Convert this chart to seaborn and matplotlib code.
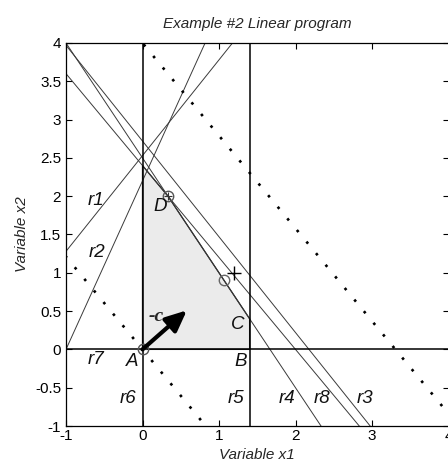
import numpy as np
import pandas as pd
import matplotlib
matplotlib.use("Agg")
import matplotlib.pyplot as plt
import seaborn as sns

# ---------------- data ----------------
constraint_names = ["r1", "r2", "r3", "r4", "r5", "r6", "r7", "r8"]
coef_x1 = [-1.25, -2.2, 1.25, 1.5, 1.0, -1.0, 0.0, 1.2]
coef_x2 = [1.0, 1.0, 1.0, 1.0, 0.0, 0.0, -1.0, 1.0]
rhs = [2.53, 2.2, 2.72, 2.5, 1.4, 0.0, 0.0, 2.4]

feasible_x1 = [0.0, 1.4, 1.4, 1 / 3, 0.0]
feasible_x2 = [0.0, 0.0, 0.4, 2.0, 2.4]

obj_c = [-1.21, -1.0]          # objective coefficients (contour slope)
obj_levels = [0.0, -4.0]       # dotted contour levels
neg_c_tip = [0.58, 0.51]       # end of the -c arrow

vertex_names = ["A", "D"]
vertex_x1 = [0.0, 1 / 3]
vertex_x2 = [0.0, 2.0]
trial_point = [1.2, 1.0]
projected_point = [1.06, 0.91]

xlim = (-1, 4)
ylim = (-1, 4)
xticks = [-1, 0, 1, 2, 3, 4]
yticks = [-1, -0.5, 0, 0.5, 1, 1.5, 2, 2.5, 3, 3.5, 4]

# ---------------- style ----------------
sns.set_theme(style="white")
plt.rcParams["font.family"] = ["Liberation Sans", "DejaVu Sans"]

fig = plt.figure(figsize=(4.48, 4.69), dpi=100)
ax = fig.add_axes([66 / 448, 43 / 469, 382.5 / 448, 383 / 469])
ax.set_xlim(*xlim)
ax.set_ylim(*ylim)

# feasible region
ax.fill(feasible_x1, feasible_x2, facecolor="#ebebeb", edgecolor="#1a1a1a",
        linewidth=0.9, zorder=1)

# constraint lines
heavy = {"r5", "r6", "r7"}
for name, a1, a2, b in zip(constraint_names, coef_x1, coef_x2, rhs):
    if a2 != 0:
        xs = np.array(xlim, dtype=float)
        ys = (b - a1 * xs) / a2
    else:
        ys = np.array(ylim, dtype=float)
        xs = np.full(2, b / a1)
    df = pd.DataFrame({"x1": xs, "x2": ys})
    if name in heavy:
        sns.lineplot(data=df, x="x1", y="x2", ax=ax, estimator=None, sort=False,
                     color="black", linewidth=1.1, zorder=3)
    else:
        sns.lineplot(data=df, x="x1", y="x2", ax=ax, estimator=None, sort=False,
                     color="#3a3a3a", linewidth=0.7, zorder=2)

# dotted objective contours
for lev in obj_levels:
    xs = np.array(xlim, dtype=float)
    ys = (lev - obj_c[0] * xs) / obj_c[1]
    df = pd.DataFrame({"x1": xs, "x2": ys})
    sns.lineplot(data=df, x="x1", y="x2", ax=ax, estimator=None, sort=False,
                 color="black", linewidth=1.9, linestyle=(0.5, (1, 4.7)),
                 zorder=2)

# vertex markers (circle with plus)
ax.plot(vertex_x1, vertex_x2, linestyle="none", marker="o", ms=7.5,
        mfc="none", mec="#555555", mew=1.0, zorder=5)
ax.plot(vertex_x1, vertex_x2, linestyle="none", marker="+", ms=6,
        color="#333333", mew=0.8, zorder=5)
ax.plot([projected_point[0]], [projected_point[1]], linestyle="none",
        marker="o", ms=7.5, mfc="none", mec="#666666", mew=1.0, zorder=5)
ax.plot([trial_point[0]], [trial_point[1]], linestyle="none", marker="+",
        ms=10, color="black", mew=1.0, zorder=5)

# -c arrow
ax.annotate("", xy=tuple(neg_c_tip), xytext=(0, 0),
            arrowprops=dict(arrowstyle="-|>,head_length=0.8,head_width=0.36",
                            lw=3.0, color="black", mutation_scale=16,
                            shrinkA=0, shrinkB=0),
            zorder=6)
ax.text(0.18, 0.43, "-c", fontsize=14, fontweight="bold", fontstyle="italic",
        family=["Liberation Serif", "DejaVu Serif"], ha="center", va="center",
        zorder=7)

# text labels
label_pos = {
    "r1": (-0.61, 1.95), "r2": (-0.60, 1.26), "r7": (-0.61, -0.13),
    "r6": (-0.19, -0.64), "r5": (1.22, -0.64), "r4": (1.89, -0.64),
    "r8": (2.34, -0.64), "r3": (2.91, -0.64),
    "A": (-0.14, -0.16), "B": (1.28, -0.16), "C": (1.25, 0.32), "D": (0.23, 1.86),
}
for txt, (px, py) in label_pos.items():
    ax.text(px, py, txt, fontsize=13.5, fontstyle="italic", ha="center",
            va="center", color="#111111", zorder=7)

# axes cosmetics
ax.set_xticks(xticks)
ax.set_yticks(yticks)
ax.set_xticklabels([f"{t:g}" for t in xticks])
ax.set_yticklabels([f"{t:g}" for t in yticks])
ax.tick_params(axis="both", which="both", direction="in", length=4.5,
               width=0.8, colors="black", labelsize=11,
               top=True, right=True, bottom=True, left=True)
ax.tick_params(axis="x", pad=2.5)
ax.tick_params(axis="y", pad=3.5)
for s in ax.spines.values():
    s.set_color("black")
    s.set_linewidth(0.9)

ax.set_title("Example #2 Linear program", fontsize=11, fontstyle="italic", pad=11)
ax.set_xlabel("Variable x1", fontsize=11, fontstyle="italic", labelpad=3)
ax.set_ylabel("Variable x2", fontsize=11, fontstyle="italic", labelpad=4)

fig.savefig("out.png", dpi=100)
